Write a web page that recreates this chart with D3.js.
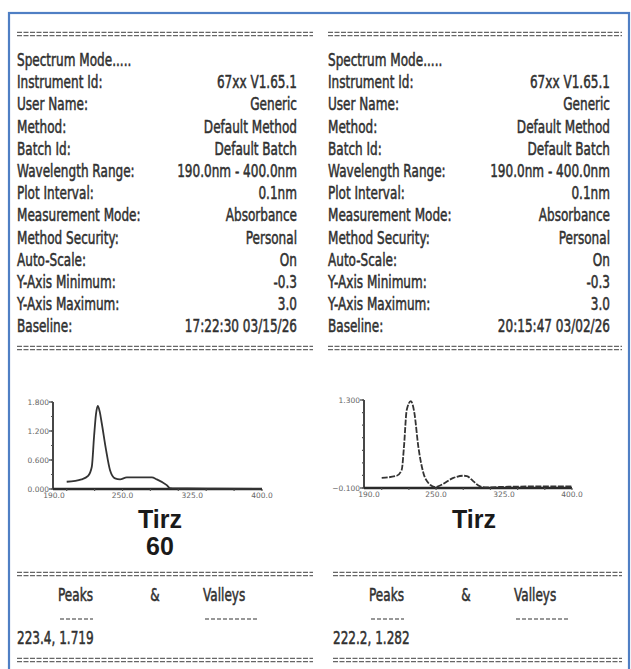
<!DOCTYPE html>
<html lang="en">
<head>
    <meta charset="UTF-8">
    <title>Spectrum printouts - Tirz</title>
    <script src="https://d3js.org/d3.v7.min.js"></script>
    <style>
        body { margin: 0; background: #fff; }
        .prn { font-family: "DejaVu Sans", sans-serif; font-size: 17.5px; fill: #303030; stroke: #303030; stroke-width: 0.55px; }
        .tick-lbl { font-family: "DejaVu Sans", sans-serif; font-size: 7.5px; fill: #666; }
        .sample { font-family: "Liberation Sans", Arial, sans-serif; font-weight: bold; font-size: 25px; fill: #1a1a1a; }
        .curve { fill: none; stroke: #333; stroke-width: 1.8px; stroke-linejoin: round; }
    </style>
</head>
<body>
<svg width="631" height="669"></svg>
<script>
// header fields, same on both slips
const fieldLabels = ["Spectrum Mode.....", "Instrument Id:", "User Name:", "Method:", "Batch Id:",
    "Wavelength Range:", "Plot Interval:", "Measurement Mode:", "Method Security:", "Auto-Scale:",
    "Y-Axis Minimum:", "Y-Axis Maximum:", "Baseline:"];
const leftValues = ["", "67xx V1.65.1", "Generic", "Default Method", "Default Batch",
    "190.0nm - 400.0nm", "0.1nm", "Absorbance", "Personal", "On", "-0.3", "3.0", "17:22:30 03/15/26"];
const rightValues = ["", "67xx V1.65.1", "Generic", "Default Method", "Default Batch",
    "190.0nm - 400.0nm", "0.1nm", "Absorbance", "Personal", "On", "-0.3", "3.0", "20:15:47 03/02/26"];

// spectra (nm, absorbance)
const leftWl  = [190, 206, 213, 217, 219.4, 221.5, 223.4, 225.5, 227.7, 232.3, 236.6, 242, 247.4, 254.6, 265.4, 281.5, 286.9, 297.6, 301, 320, 350, 400];
const leftAbs = [0.15, 0.20, 0.27, 0.46, 1.08, 1.55, 1.719, 1.60, 1.36, 0.81, 0.39, 0.22, 0.20, 0.24, 0.24, 0.24, 0.20, 0.08, 0.02, 0.01, 0.005, 0.0];
const rightWl  = [190, 206.6, 212.1, 214.6, 217.6, 222.2, 226, 230.4, 236, 241.5, 248.9, 254.4, 269.1, 280.2, 284, 291.2, 298.6, 304, 330, 360, 400];
const rightAbs = [0.06, 0.095, 0.19, 0.56, 1.14, 1.282, 1.10, 0.56, 0.14, -0.02, -0.085, -0.06, 0.06, 0.095, 0.09, 0.005, -0.075, -0.09, -0.08, -0.075, -0.075];

const leftYTicks = [0, 0.6, 1.2, 1.8];
const rightYTicks = [-0.1, 1.3];
const xTicks = [190, 250, 325, 400];

const sampleNames = [["Tirz", "60"], ["Tirz"]];
const peakRows = ["223.4, 1.719", "222.2, 1.282"];

const svg = d3.select("svg");
svg.append("rect").attr("width", 631).attr("height", 669).attr("fill", "#fff");
// blue frame of the photo
svg.append("rect").attr("x", 9).attr("y", 13).attr("width", 620).attr("height", 700)
    .attr("fill", "none").attr("stroke", "#4f7fc4").attr("stroke-width", 2.2);

const SX = 0.69; // printer font is narrow

function prnText(g, str, x, y, anchor) {
    g.append("text").attr("class", "prn")
        .attr("text-anchor", anchor || "start")
        .attr("transform", `translate(${x},${y}) scale(${SX},1)`)
        .text(str);
}

function rule(g, x1, x2, y) {
    [-1.6, 1.6].forEach(dy => {
        g.append("line").attr("x1", x1).attr("x2", x2).attr("y1", y + dy).attr("y2", y + dy)
            .attr("stroke", "#666").attr("stroke-width", 1.4).attr("stroke-dasharray", "5,1.5");
    });
}

const panels = [
    { dx: 0, values: leftValues, wl: leftWl, abs: leftAbs, yDom: [0, 1.8], yTicks: leftYTicks,
      yMinor: d3.range(0, 1.81, 0.3), ax: 53, top: 402, bot: 489, right: 262, start: 66.7,
      valueRight: 297, ruleR: 313, tx: 160 },
    { dx: 311, values: rightValues, wl: rightWl, abs: rightAbs, yDom: [-0.1, 1.3], yTicks: rightYTicks,
      yMinor: d3.range(-0.1, 1.31, 0.2), ax: 364, top: 400, bot: 488, right: 572, start: 381.7,
      valueRight: 610, ruleR: 622, tx: 474 }
];

panels.forEach((p, pi) => {
    const g = svg.append("g");
    const left = 17 + p.dx;

    rule(g, left, p.ruleR, 34);
    fieldLabels.forEach((lab, i) => {
        const y = 66 + i * 22.2;
        prnText(g, lab, left, y);
        if (p.values[i]) prnText(g, p.values[i], p.valueRight, y, "end");
    });
    rule(g, left, p.ruleR, 348);

    // spectrum plot
    const x = d3.scaleLinear().domain([190, 400]).range([p.start, p.right]);
    const y = d3.scaleLinear().domain(p.yDom).range([p.bot, p.top]);

    // y axis
    g.append("line").attr("x1", p.ax).attr("x2", p.ax).attr("y1", p.top).attr("y2", p.bot)
        .attr("stroke", "#333").attr("stroke-width", 1.8);
    p.yMinor.forEach(v => {
        g.append("line").attr("x1", p.ax - 2).attr("x2", p.ax).attr("y1", y(v)).attr("y2", y(v))
            .attr("stroke", "#555").attr("stroke-width", 1.2);
    });
    p.yTicks.forEach(v => {
        g.append("line").attr("x1", p.ax - 4).attr("x2", p.ax).attr("y1", y(v)).attr("y2", y(v))
            .attr("stroke", "#444").attr("stroke-width", 1.2);
        g.append("text").attr("class", "tick-lbl").attr("text-anchor", "end")
            .attr("x", p.ax - 4).attr("y", y(v) + 2.5).text(d3.format(".3f")(v));
    });

    // x axis
    g.append("line").attr("x1", p.ax).attr("x2", p.right).attr("y1", p.bot).attr("y2", p.bot)
        .attr("stroke", "#2a2a2a").attr("stroke-width", 2.4);
    d3.range(190, 401, 30).forEach(v => {
        g.append("line").attr("x1", x(v)).attr("x2", x(v)).attr("y1", p.bot).attr("y2", p.bot + 2)
            .attr("stroke", "#555").attr("stroke-width", 1.2);
    });
    xTicks.forEach((v, i) => {
        g.append("text").attr("class", "tick-lbl")
            .attr("text-anchor", i === 0 ? "end" : "middle")
            .attr("x", i === 0 ? x(v) - 2 : x(v)).attr("y", p.bot + 9)
            .text(d3.format(".1f")(v));
    });

    const line = d3.line().x((d, i) => x(p.wl[i])).y(d => y(d)).curve(d3.curveMonotoneX);
    g.append("path").attr("class", "curve").attr("d", line(p.abs))
        .attr("stroke-dasharray", pi === 1 ? "6,1.5" : null);

    // sample name
    sampleNames[pi].forEach((s, i) => {
        g.append("text").attr("class", "sample").attr("text-anchor", "middle")
            .attr("x", p.tx).attr("y", 528 + i * 27).text(s);
    });

    // peaks & valleys
    const pl = pi === 0 ? 17 : 333;
    rule(g, pl, p.ruleR, 574);
    prnText(g, "Peaks", 58 + p.dx, 601);
    prnText(g, "&", 155 + p.dx, 601, "middle");
    prnText(g, "Valleys", 203 + p.dx, 601);
    [[60, 93], [205, 257]].forEach(([a, b]) => {
        g.append("line").attr("x1", a + p.dx).attr("x2", b + p.dx).attr("y1", 619).attr("y2", 619)
            .attr("stroke", "#777").attr("stroke-width", 1.3).attr("stroke-dasharray", "4,2");
    });
    prnText(g, peakRows[pi], pl, 644);
    rule(g, pl, p.ruleR, 660);
});
</script>
</body>
</html>
